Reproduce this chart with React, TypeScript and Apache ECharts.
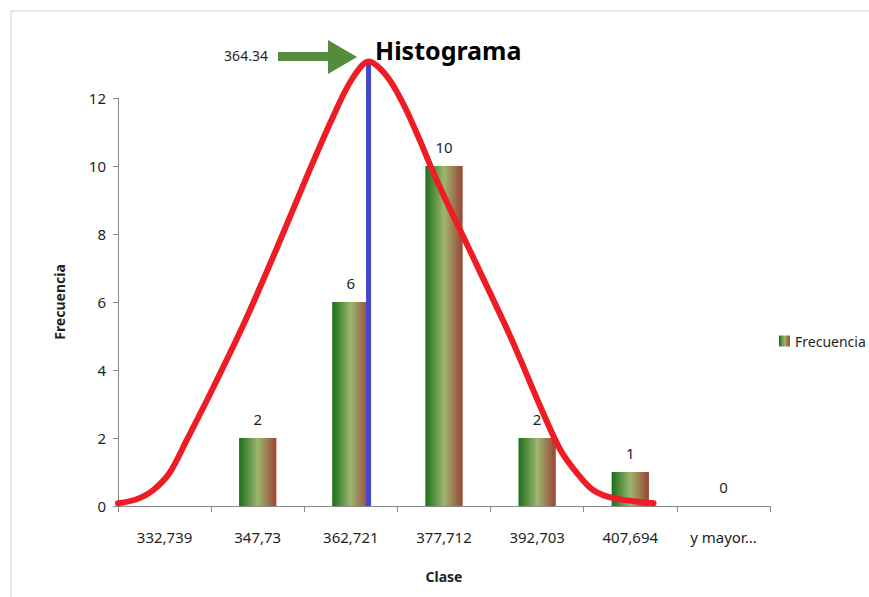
import React, { useEffect, useRef } from "react";
import * as echarts from "echarts";

const categories = ["332,739", "347,73", "362,721", "377,712", "392,703", "407,694", "y mayor..."];
const frequencies: (number | string)[] = ["-", 2, 6, 10, 2, 1, 0];

// Hand-drawn normal curve (x in category-slot units, y in frequency units)
const curveX = [0.0, 0.2, 0.38, 0.56, 0.74, 0.99, 1.35, 1.7, 2.06, 2.3, 2.5, 2.69, 2.89, 3.06, 3.24, 3.42, 3.85, 4.21, 4.57, 4.75, 4.93, 5.1, 5.32, 5.75];
const curveY = [0.08, 0.2, 0.47, 1.0, 1.95, 3.3, 5.35, 7.55, 9.9, 11.4, 12.5, 13.07, 12.63, 11.84, 10.76, 9.59, 7.1, 5.0, 2.7, 1.65, 0.96, 0.47, 0.23, 0.08];

const meanPosition = 2.69;
const meanTop = 13.0;
const meanLabel = "364.34";

const yTicks = { min: 0, max: 12, interval: 2 };

const FONT = "Noto Sans";

export default function App() {
  const ref = useRef<HTMLDivElement>(null);
  useEffect(() => {
    if (!ref.current) return;
    const chart = echarts.init(ref.current, undefined, { renderer: "svg" });
    const barGradient = new echarts.graphic.LinearGradient(0, 0, 1, 0, [
      { offset: 0, color: "#1a6f1a" },
      { offset: 0.5, color: "#9db66e" },
      { offset: 1, color: "#9a4436" },
    ]);
    chart.setOption({
      animation: false,
      backgroundColor: "#ffffff",
      textStyle: { fontFamily: FONT },
      title: {
        text: "Histograma",
        left: 370,
        top: 32,
        textStyle: { fontFamily: FONT, fontSize: 25, fontWeight: "bold", color: "#000" },
      },
      legend: {
        data: ["Frecuencia"],
        left: 774,
        top: 329,
        itemWidth: 11,
        itemHeight: 11,
        icon: "rect",
        textStyle: { fontFamily: FONT, fontSize: 14, color: "#1f1f1f" },
      },
      grid: { left: 118, right: 99, top: 98, bottom: 91, containLabel: false },
      xAxis: [
        {
          type: "category",
          data: categories,
          boundaryGap: true,
          name: "Clase",
          nameLocation: "middle",
          nameGap: 63,
          nameTextStyle: { fontFamily: FONT, fontSize: 14, fontWeight: "bold", color: "#1f1f1f" },
          axisLine: { lineStyle: { color: "#8a8a8a", width: 1 } },
          axisTick: { show: true, length: 6, lineStyle: { color: "#8a8a8a" } },
          axisLabel: { fontFamily: FONT, fontSize: 15, color: "#1f1f1f", margin: 23, interval: 0 },
        },
        { type: "value", min: 0, max: 7, show: false },
      ],
      yAxis: {
        type: "value",
        min: yTicks.min,
        max: yTicks.max,
        interval: yTicks.interval,
        name: "Frecuencia",
        nameLocation: "middle",
        nameGap: 52,
        nameTextStyle: { fontFamily: FONT, fontSize: 14, fontWeight: "bold", color: "#1f1f1f" },
        axisLine: { show: true, lineStyle: { color: "#8a8a8a", width: 1 } },
        axisTick: { show: true, length: 5, lineStyle: { color: "#8a8a8a" } },
        splitLine: { show: false },
        axisLabel: { fontFamily: FONT, fontSize: 15, color: "#1f1f1f", margin: 12 },
      },
      series: [
        {
          name: "Frecuencia",
          type: "bar",
          data: frequencies,
          barWidth: "40%",
          itemStyle: { color: barGradient },
          label: {
            show: true,
            position: "top",
            distance: 12,
            fontFamily: FONT,
            fontSize: 15,
            color: "#1f1f1f",
          },
          z: 2,
        },
        {
          name: "media",
          type: "line",
          xAxisIndex: 1,
          data: [[meanPosition, 0], [meanPosition, meanTop]],
          symbol: "none",
          clip: false,
          lineStyle: { color: "#4247c9", width: 5 },
          z: 3,
        },
        {
          name: "curva",
          type: "line",
          xAxisIndex: 1,
          data: curveX.map((x, i) => [x, curveY[i]]),
          smooth: 0.3,
          symbol: "none",
          clip: false,
          lineStyle: { color: "#ee1c24", width: 6, cap: "round", join: "round" },
          z: 4,
        },
      ],
      graphic: [
        {
          type: "rect",
          shape: { x: 11, y: 11, width: 900, height: 700 },
          style: { fill: "none", stroke: "#dce7cb", lineWidth: 1.5 },
          silent: true,
          z: -1,
        },
        {
          type: "polygon",
          shape: {
            points: [[278, 52], [328, 52], [328, 40], [357, 57], [328, 74], [328, 61], [278, 61]],
          },
          style: { fill: "#548b3c" },
        },
        {
          type: "text",
          x: 246,
          y: 55,
          style: {
            text: meanLabel,
            fontFamily: FONT,
            fontSize: 14,
            fill: "#1f1f1f",
            align: "center",
            verticalAlign: "middle",
          },
        },
      ],
    });
    return () => chart.dispose();
  }, []);
  return <div ref={ref} style={{ width: 869, height: 597, position: "absolute", left: 0, top: 0 }} />;
}
